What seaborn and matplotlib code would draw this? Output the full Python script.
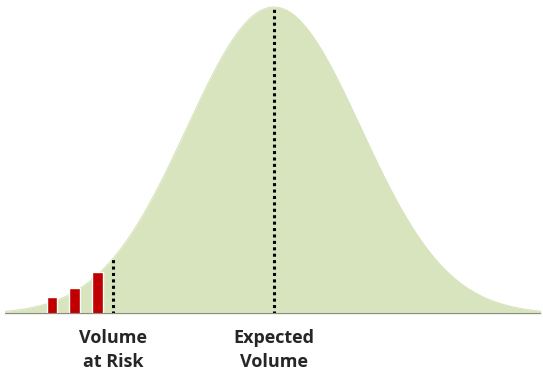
import numpy as np
import pandas as pd
import matplotlib
matplotlib.use("Agg")
import matplotlib.pyplot as plt
import seaborn as sns

# Distribution of volume (standardised units)
mean_volume = 0.0
sd_volume = 1.0
x_range = (-3.09, 3.07)
risk_threshold = -1.85

# Tail outcomes below the risk threshold
tail_positions = [-2.55, -2.29, -2.03]
tail_heights = [0.055, 0.085, 0.137]

labels = ["Volume\nat Risk", "Expected\nVolume"]
label_positions = [risk_threshold, mean_volume]

sns.set_style("white")
plt.rcParams["font.family"] = ["Open Sans", "DejaVu Sans"]

xs = np.linspace(x_range[0], x_range[1], 600)
curve = pd.DataFrame({
    "volume": xs,
    "density": np.exp(-0.5 * ((xs - mean_volume) / sd_volume) ** 2),
})

fig = plt.figure(figsize=(5.43, 3.74), dpi=100)
ax = fig.add_axes([5 / 543, 60 / 374, 536 / 543, 314 / 374])

ax.fill_between(curve["volume"], curve["density"], color="#D7E4BD", linewidth=0, zorder=1)
sns.lineplot(data=curve, x="volume", y="density", ax=ax, color="#D7E4BD", linewidth=0.8, zorder=1)

ax.bar(tail_positions, tail_heights, width=0.125, color="#C00000", zorder=3)

def density_at(v):
    return np.exp(-0.5 * ((v - mean_volume) / sd_volume) ** 2)

for v in (risk_threshold, mean_volume):
    ax.plot([v, v], [0, density_at(v)], color="black", linewidth=2.2,
            linestyle=(0, (1, 1.1)), dash_capstyle="butt", zorder=4)

ax.set_xlim(*x_range)
ax.set_ylim(0, 1.023)
ax.axhline(0, color="#8C8C8C", linewidth=1.5, zorder=5)

for lab, pos in zip(labels, label_positions):
    ax.text(pos, -0.114, lab, transform=ax.get_xaxis_transform(), ha="center", va="center",
            fontsize=13, fontweight="bold", color="#262626", linespacing=1.45)

ax.set_xlabel("")
ax.set_ylabel("")
ax.set_xticks([])
ax.set_yticks([])
for s in ax.spines.values():
    s.set_visible(False)

fig.savefig("out.png", dpi=100)
